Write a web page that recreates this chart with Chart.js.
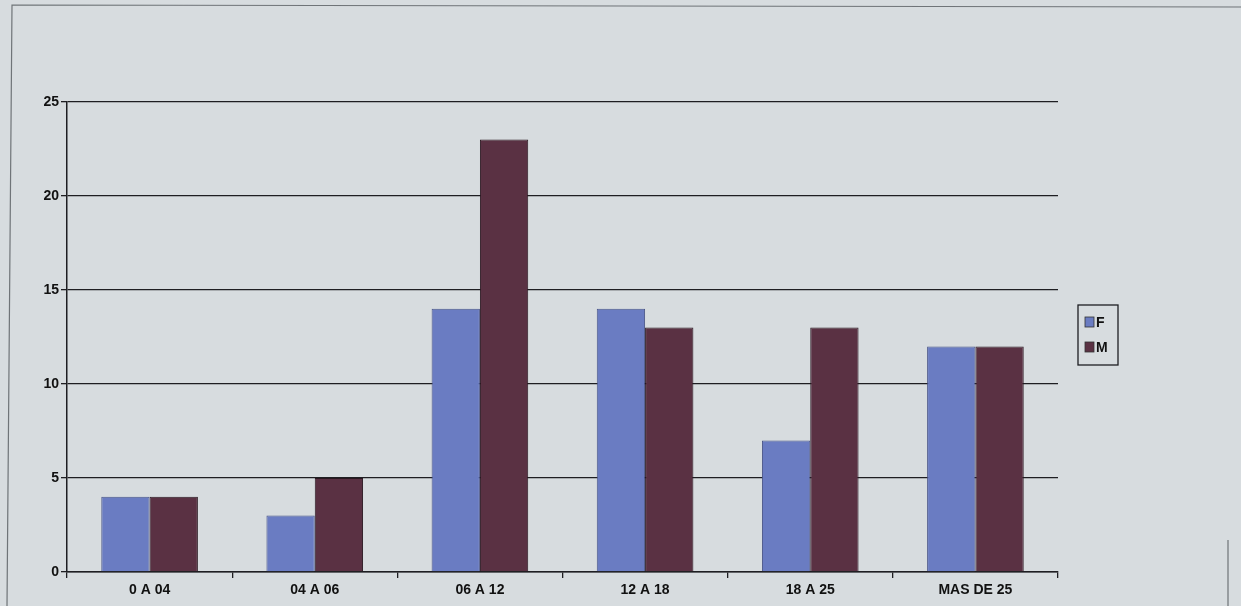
<!DOCTYPE html>
<html>
<head>
<meta charset="utf-8">
<script src="https://cdn.jsdelivr.net/npm/chart.js@4/dist/chart.umd.min.js"></script>
<style>
  html, body { margin: 0; padding: 0; background: #d7dcdf; }
  #wrap { width: 1241px; height: 606px; position: relative; }
</style>
</head>
<body>
<div id="wrap"><canvas id="chart" width="1241" height="606"></canvas></div>
<script>
// age groups and counts by sex
const categories = ['0 A 04', '04 A 06', '06 A 12', '12 A 18', '18 A 25', 'MAS DE 25'];
const femValues = [4, 3, 14, 14, 7, 12];
const mascValues = [4, 5, 23, 13, 13, 12];
const yTicks = [0, 5, 10, 15, 20, 25];

const COLORS = {
  fem: '#6a7cc2',
  masc: '#5a3143',
  line: '#1e1e22',
  text: '#111'
};

const FONT = { family: 'Liberation Sans', weight: 'bold', size: 14 };

// photo frame behind the chart
const framePlugin = {
  id: 'frame',
  beforeDraw(chart) {
    const c = chart.ctx;
    c.save();
    c.strokeStyle = '#6f7478';
    c.lineWidth = 1.2;
    c.beginPath();
    c.moveTo(7, 606);
    c.lineTo(12, 5);
    c.lineTo(1241, 7);
    c.moveTo(1228, 540);
    c.lineTo(1228, 606);
    c.stroke();
    c.restore();
  }
};

// boxed legend at the right, like the printed one
const boxLegend = {
  id: 'boxLegend',
  afterDraw(chart) {
    const c = chart.ctx;
    const x = 1078, y = 305, w = 40, h = 60;
    c.save();
    c.strokeStyle = COLORS.line;
    c.lineWidth = 1.3;
    c.strokeRect(x, y, w, h);
    c.font = 'bold 14px "Liberation Sans"';
    c.textBaseline = 'middle';
    chart.data.datasets.forEach(function(ds, i) {
      const cy = y + 17 + i * 25;
      c.fillStyle = ds.backgroundColor;
      c.fillRect(x + 7, cy - 5, 9, 10);
      c.strokeStyle = '#333';
      c.lineWidth = 0.8;
      c.strokeRect(x + 7, cy - 5, 9, 10);
      c.fillStyle = COLORS.text;
      c.fillText(ds.label, x + 18, cy + 1);
    });
    c.restore();
  }
};

const ctx = document.getElementById('chart');
new Chart(ctx, {
  type: 'bar',
  data: {
    labels: categories,
    datasets: [
      {
        label: 'F',
        data: femValues,
        backgroundColor: COLORS.fem,
        borderColor: '#4a5588',
        borderWidth: 1,
        categoryPercentage: 0.585,
        barPercentage: 1.0
      },
      {
        label: 'M',
        data: mascValues,
        backgroundColor: COLORS.masc,
        borderColor: '#2a1820',
        borderWidth: 1,
        categoryPercentage: 0.585,
        barPercentage: 1.0
      }
    ]
  },
  options: {
    responsive: false,
    animation: false,
    layout: { padding: { left: 0, top: 102, right: 183, bottom: 0 } },
    plugins: {
      tooltip: { enabled: false },
      legend: { display: false }
    },
    scales: {
      x: {
        grid: {
          offset: true,
          drawOnChartArea: false,
          color: COLORS.line,
          tickLength: 6,
          lineWidth: 1.3
        },
        border: { color: COLORS.line, width: 1.5 },
        ticks: { color: COLORS.text, padding: 4, font: FONT },
        afterFit: function(scale) { scale.height = 34; }
      },
      y: {
        min: 0,
        max: 25,
        afterBuildTicks: function(scale) {
          scale.ticks = yTicks.map(function(v) { return { value: v }; });
        },
        grid: { color: COLORS.line, lineWidth: 1.3, tickLength: 6 },
        border: { color: COLORS.line, width: 1.5 },
        ticks: { color: COLORS.text, padding: 2, font: FONT },
        afterFit: function(scale) { scale.width = 67; }
      }
    }
  },
  plugins: [framePlugin, boxLegend]
});
</script>
</body>
</html>
